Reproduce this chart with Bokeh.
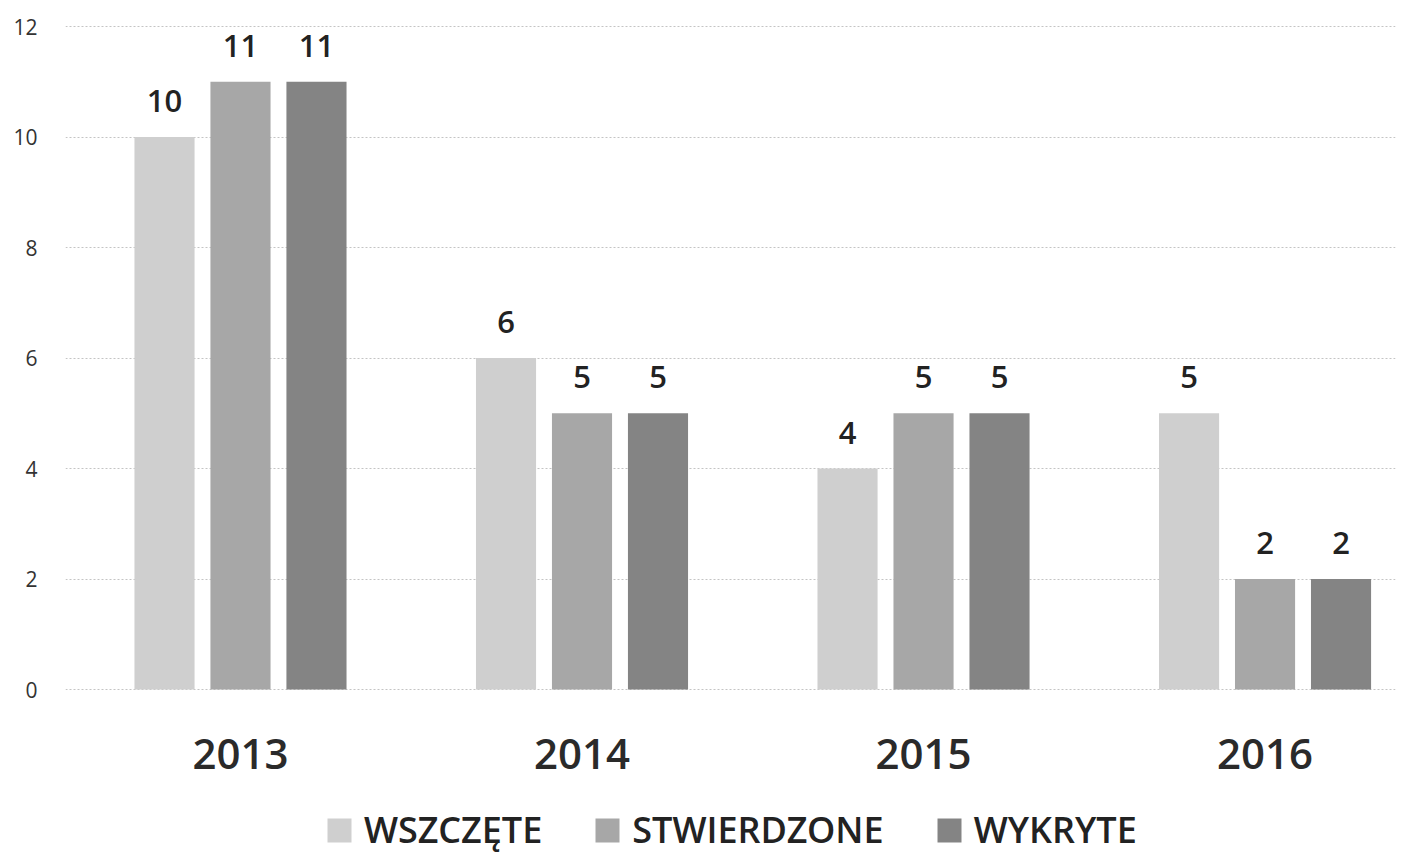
from bokeh.plotting import figure
from bokeh.models import (ColumnDataSource, Range1d, FixedTicker, LabelSet,
                          Legend, LegendItem)
from bokeh.transform import dodge
from bokeh.core.properties import value
from bokeh.embed import file_html
from bokeh.resources import INLINE

years = ["2013", "2014", "2015", "2016"]
wszczete = [10, 6, 4, 5]
stwierdzone = [11, 5, 5, 2]
wykryte = [11, 5, 5, 2]
series_names = ["WSZCZĘTE", "STWIERDZONE", "WYKRYTE"]
series_colors = ["#cfcfcf", "#a7a7a7", "#848484"]
y_ticks = [0, 2, 4, 6, 8, 10, 12]

FONT = "Open Sans"
FONT_SB = "Open Sans SemiBold"
TXT = "#222222"

idx = list(range(len(years)))
src = ColumnDataSource(dict(x=idx, base=[0] * len(years), year=years,
                            s0=wszczete, s1=stwierdzone, s2=wykryte,
                            l0=[str(v) for v in wszczete],
                            l1=[str(v) for v in stwierdzone],
                            l2=[str(v) for v in wykryte]))

p = figure(frame_width=1330, frame_height=839, output_backend="svg", toolbar_location=None,
           x_range=Range1d(-0.5124, 3.382), y_range=Range1d(-2.985, 12.2),
           min_border_left=65, min_border_right=5, min_border_top=15, min_border_bottom=0)

p.background_fill_color = "white"
p.border_fill_color = "white"
p.outline_line_color = None

offsets = [-0.2225, 0.0, 0.2225]
bw = 0.176
renderers = []
for i, (name, col) in enumerate(zip(series_names, series_colors)):
    r = p.vbar(x=dodge("x", offsets[i], range=p.x_range), top=f"s{i}", bottom="base",
               width=bw, source=src, fill_color=col, line_color=None)
    renderers.append(r)
    labels = LabelSet(x=dodge("x", offsets[i], range=p.x_range), y=f"s{i}",
                      text=f"l{i}", source=src, y_offset=25,
                      text_align="center", text_baseline="alphabetic",
                      text_font=value(FONT_SB), text_font_size=value("31px"),
                      text_color=TXT)
    p.add_layout(labels)

# category (year) labels under each group
year_labels = LabelSet(x="x", y="base", text="year", source=src, y_offset=-79,
                       text_align="center", text_baseline="alphabetic",
                       text_font=value(FONT_SB), text_font_size=value("42px"),
                       text_color="#2a2a2a")
p.add_layout(year_labels)

# grid
p.xgrid.visible = False
p.ygrid.ticker = FixedTicker(ticks=y_ticks)
p.ygrid.grid_line_color = "#c4c4c4"
p.ygrid.grid_line_dash = "2 2"
p.ygrid.grid_line_width = 1

# y axis
p.yaxis.ticker = FixedTicker(ticks=y_ticks)
p.yaxis.axis_line_color = None
p.yaxis.major_tick_line_color = None
p.yaxis.minor_tick_line_color = None
p.yaxis.major_label_text_font = FONT
p.yaxis.major_label_text_font_size = "21px"
p.yaxis.major_label_text_color = "#333333"
p.yaxis.major_label_standoff = 22

p.xaxis.visible = False

legend = Legend(items=[LegendItem(label=n, renderers=[r]) for n, r in zip(series_names, renderers)],
                orientation="horizontal", location=(259, 0),
                glyph_width=30, glyph_height=30, label_standoff=10, spacing=50,
                label_text_font=FONT_SB, label_text_font_size="36px",
                label_text_color=TXT, border_line_color=None,
                background_fill_alpha=0, padding=0, margin=0)
p.add_layout(legend, "center")

open("out.html", "w").write(file_html(p, INLINE))
